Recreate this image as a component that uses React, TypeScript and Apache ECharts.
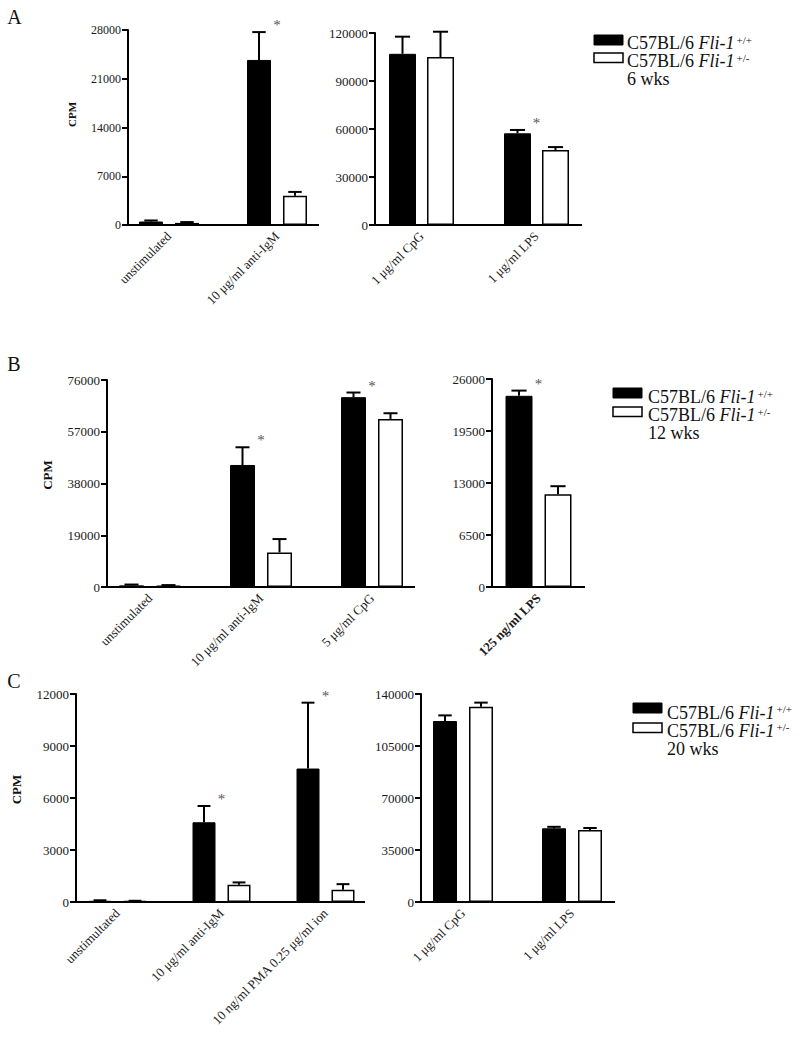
import React, { useEffect, useRef } from "react";
import * as echarts from "echarts";

const FONT = "'Liberation Serif', 'Times New Roman', Times, serif";

// ---------- DATA ----------
// Panel A (6 wks)
const aLeftCats = ["unstimulated", "10 μg/ml anti-IgM"];
const aLeftWT = [500, 23700];
const aLeftWTErr = [150, 4000];
const aLeftHet = [300, 4200];
const aLeftHetErr = [120, 550];
const aLeftStar = [0, 1];

const aRightCats = ["1 μg/ml CpG", "1 μg/ml LPS"];
const aRightWT = [107000, 57300];
const aRightWTErr = [10700, 2100];
const aRightHet = [105000, 46900];
const aRightHetErr = [15800, 1800];
const aRightStar = [0, 1];

// Panel B (12 wks)
const bLeftCats = ["unstimulated", "10 μg/ml anti-IgM", "5 μg/ml CpG"];
const bLeftWT = [600, 44800, 69700];
const bLeftWTErr = [300, 6500, 1700];
const bLeftHet = [500, 12700, 61700];
const bLeftHetErr = [200, 4900, 2100];
const bLeftStar = [0, 1, 1];

const bRightCats = ["125 ng/ml LPS"];
const bRightWT = [23900];
const bRightWTErr = [650];
const bRightHet = [11600];
const bRightHetErr = [1000];
const bRightStar = [1];

// Panel C (20 wks)
const cLeftCats = ["unstimultated", "10 μg/ml anti-IgM", "10 ng/ml PMA 0.25 μg/ml ion"];
const cLeftWT = [70, 4600, 7700];
const cLeftWTErr = [30, 940, 3800];
const cLeftHet = [50, 1000, 700];
const cLeftHetErr = [20, 130, 330];
const cLeftStar = [0, 1, 1];

const cRightCats = ["1 μg/ml CpG", "1 μg/ml LPS"];
const cRightWT = [121800, 49600];
const cRightWTErr = [3800, 1000];
const cRightHet = [131500, 48500];
const cRightHetErr = [2700, 1300];
const cRightStar = [0, 0];

// axis maxima (ticks every quarter)
const yMaxes = [28000, 120000, 76000, 26000, 12000, 140000];

const panelLetters = ["A", "B", "C"];
const ageLabels = ["6 wks", "12 wks", "20 wks"];
const wtLabel = ["C57BL/6 ", "Fli-1", "+/+"];
const hetLabel = ["C57BL/6 ", "Fli-1", "+/-"];
const yName = "CPM";

// ---------- LAYOUT ----------
const panels = [
  { cats: aLeftCats, wt: aLeftWT, wtErr: aLeftWTErr, het: aLeftHet, hetErr: aLeftHetErr, star: aLeftStar,
    yAxisX: 128, axisEnd: 319, gridLeft: 115, band: 108, top: 30, bottom: 225, bw: 24, gap: 12, tickFont: 12, bold: false },
  { cats: aRightCats, wt: aRightWT, wtErr: aRightWTErr, het: aRightHet, hetErr: aRightHetErr, star: aRightStar,
    yAxisX: 375, axisEnd: 582, gridLeft: 364, band: 115, top: 33, bottom: 225, bw: 27, gap: 11, tickFont: 13, bold: false },
  { cats: bLeftCats, wt: bLeftWT, wtErr: bLeftWTErr, het: bLeftHet, hetErr: bLeftHetErr, star: bLeftStar,
    yAxisX: 107, axisEnd: 415, gridLeft: 94.5, band: 111, top: 380, bottom: 587, bw: 25, gap: 12, tickFont: 13, bold: false },
  { cats: bRightCats, wt: bRightWT, wtErr: bRightWTErr, het: bRightHet, hetErr: bRightHetErr, star: bRightStar,
    yAxisX: 492, axisEnd: 585, gridLeft: 492, band: 93, top: 379, bottom: 587, bw: 27, gap: 12, tickFont: 13, bold: true },
  { cats: cLeftCats, wt: cLeftWT, wtErr: cLeftWTErr, het: cLeftHet, hetErr: cLeftHetErr, star: cLeftStar,
    yAxisX: 76, axisEnd: 365, gridLeft: 65.5, band: 104, top: 694, bottom: 902, bw: 23, gap: 12, tickFont: 13, bold: false },
  { cats: cRightCats, wt: cRightWT, wtErr: cRightWTErr, het: cRightHet, hetErr: cRightHetErr, star: cRightStar,
    yAxisX: 421, axisEnd: 615, gridLeft: 408.5, band: 109, top: 694, bottom: 902, bw: 24, gap: 12, tickFont: 13, bold: false },
];

const letterPos = [[14.5, 16.5], [14, 363.5], [14, 680.5]];
const cpmPos = [[72, 114.5, 11], [47.5, 475, 13], [16, 789.5, 13]];
const legendPos = [
  { rx: 594, ry1: 35, ry2: 53, tx: 627, ty: 34 },
  { rx: 613, ry1: 388, ry2: 407, tx: 648, ty: 388 },
  { rx: 633, ry1: 703, ry2: 723, tx: 667, ty: 703.5 },
];

function errSeries(k: number, p: any) {
  return {
    type: "custom",
    xAxisIndex: k,
    yAxisIndex: k,
    z: 5,
    silent: true,
    data: p.cats.map((_: string, i: number) => [i, p.wt[i], p.wtErr[i], p.het[i], p.hetErr[i], p.star[i]]),
    encode: { x: 0, y: 1 },
    renderItem: (params: any, api: any) => {
      const i = api.value(0);
      const cx = api.coord([i, 0])[0];
      const off = (p.bw + p.gap) / 2;
      const half = p.bw * 0.28;
      const children: any[] = [];
      [[1, -off], [3, off]].forEach(([d, o]) => {
        const v = api.value(d);
        const e = api.value(d + 1);
        const x = cx + o;
        const y1 = api.coord([i, v])[1];
        const y2 = api.coord([i, v + e])[1];
        children.push({ type: "line", shape: { x1: x, y1, x2: x, y2 }, style: { stroke: "#000", lineWidth: 2 } });
        children.push({ type: "line", shape: { x1: x - half, y1: y2, x2: x + half, y2 }, style: { stroke: "#000", lineWidth: 2 } });
      });
      if (api.value(5)) {
        const yTop = api.coord([i, api.value(1) + api.value(2)])[1];
        children.push({
          type: "text",
          x: cx,
          y: yTop - 7,
          style: { text: "*", fill: "#555", fontSize: 15, fontFamily: FONT, align: "center", verticalAlign: "middle" },
        });
      }
      return { type: "group", children };
    },
  };
}

export default function App() {
  const ref = useRef<HTMLDivElement>(null);
  useEffect(() => {
    if (!ref.current) return;
    const chart = echarts.init(ref.current, undefined, { renderer: "svg" });
    const grids: any[] = [];
    const xAxes: any[] = [];
    const yAxes: any[] = [];
    const series: any[] = [];
    const graphics: any[] = [];

    panels.forEach((p, k) => {
      grids.push({ left: p.gridLeft, top: p.top, width: p.band * p.cats.length, height: p.bottom - p.top, containLabel: false });
      xAxes.push({
        type: "category",
        gridIndex: k,
        data: p.cats,
        axisLine: { show: false },
        axisTick: { show: false },
        axisLabel: {
          interval: 0,
          rotate: 45,
          margin: 9,
          fontSize: 13,
          fontFamily: FONT,
          color: "#1a1a1a",
          fontWeight: p.bold ? "bold" : "normal",
        },
      });
      yAxes.push({
        type: "value",
        gridIndex: k,
        min: 0,
        max: yMaxes[k],
        interval: yMaxes[k] / 4,
        offset: p.gridLeft - p.yAxisX,
        splitLine: { show: false },
        axisLine: { show: true, lineStyle: { color: "#000", width: 2 } },
        axisTick: { show: true, length: 6, lineStyle: { color: "#000", width: 2 } },
        axisLabel: {
          margin: 7,
          fontSize: p.tickFont,
          fontFamily: FONT,
          color: "#1a1a1a",
          formatter: (v: number) => String(Math.round(v)),
        },
      });
      series.push({
        type: "bar",
        name: "C57BL/6 Fli-1 +/+",
        xAxisIndex: k,
        yAxisIndex: k,
        data: p.wt,
        barWidth: p.bw,
        barGap: `${(p.gap / p.bw) * 100}%`,
        itemStyle: { color: "#000", borderColor: "#000", borderWidth: 1 },
        silent: true,
      });
      series.push({
        type: "bar",
        name: "C57BL/6 Fli-1 +/-",
        xAxisIndex: k,
        yAxisIndex: k,
        data: p.het,
        barWidth: p.bw,
        barGap: `${(p.gap / p.bw) * 100}%`,
        itemStyle: { color: "#fff", borderColor: "#000", borderWidth: 1.5 },
        silent: true,
      });
      series.push(errSeries(k, p));
      graphics.push({
        type: "line",
        shape: { x1: p.yAxisX - 1, y1: p.bottom, x2: p.axisEnd, y2: p.bottom },
        style: { stroke: "#000", lineWidth: 2 },
        z: 10,
      });
    });

    panelLetters.forEach((t, j) => {
      graphics.push({
        type: "text",
        x: letterPos[j][0],
        y: letterPos[j][1],
        style: { text: t, fontSize: 20, fontFamily: FONT, fill: "#111", align: "center", verticalAlign: "middle" },
      });
      graphics.push({
        type: "text",
        x: cpmPos[j][0],
        y: cpmPos[j][1],
        rotation: Math.PI / 2,
        style: { text: yName, fontSize: cpmPos[j][2], fontWeight: "bold", fontFamily: FONT, fill: "#111", align: "center", verticalAlign: "middle" },
      });
      const L = legendPos[j];
      graphics.push({ type: "rect", shape: { x: L.rx, y: L.ry1, width: 29, height: 10 }, style: { fill: "#000", stroke: "#000", lineWidth: 1 } });
      graphics.push({ type: "rect", shape: { x: L.rx, y: L.ry2, width: 29, height: 9.5 }, style: { fill: "#fff", stroke: "#000", lineWidth: 1.5 } });
      const line = (lab: string[]) => `{n|${lab[0]}}{i|${lab[1]}}{s|${lab[2]}}`;
      graphics.push({
        type: "text",
        x: L.tx,
        y: L.ty,
        style: {
          text: `${line(wtLabel)}\n${line(hetLabel)}\n{n|${ageLabels[j]}}`,
          align: "left",
          verticalAlign: "top",
          fill: "#111",
          fontFamily: FONT,
          rich: {
            n: { fontSize: 18, lineHeight: 18, fontFamily: FONT, fill: "#111" },
            i: { fontSize: 18, lineHeight: 18, fontFamily: FONT, fontStyle: "italic", fill: "#111" },
            s: { fontSize: 11, lineHeight: 11, fontFamily: FONT, verticalAlign: "top", fill: "#111", padding: [0, 0, 0, 2] },
          },
        },
      });
    });

    chart.setOption({
      animation: false,
      backgroundColor: "#fff",
      grid: grids,
      xAxis: xAxes,
      yAxis: yAxes,
      series,
      graphic: graphics,
    });
    return () => chart.dispose();
  }, []);
  return <div ref={ref} style={{ position: "absolute", left: 0, top: 0, width: 800, height: 1049 }} />;
}
